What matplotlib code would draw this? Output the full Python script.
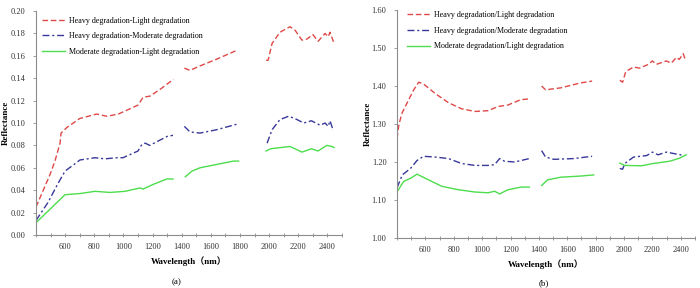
import numpy as np
import matplotlib
matplotlib.use("Agg")
import matplotlib.pyplot as plt
from matplotlib.ticker import MultipleLocator, FuncFormatter

nan = np.nan

# ---------------- Panel (a): differences ----------------
a_red_x = [400, 450, 496, 530, 565, 572, 612, 700, 816, 887, 965, 1067, 1100, 1135, 1182, 1251, 1343,
           nan, 1418, 1457, 1526, 1640, 1780,
           nan, 1979, 1993, 2020, 2074, 2143, 2177, 2225, 2260, 2300, 2336, 2384, 2405, 2418, 2432, 2446]
a_red_y = [0.025, 0.040, 0.054, 0.066, 0.082, 0.091, 0.096, 0.104, 0.108, 0.106, 0.108, 0.114, 0.116, 0.123, 0.124, 0.130, 0.139,
           nan, 0.149, 0.147, 0.151, 0.157, 0.165,
           nan, 0.156, 0.156, 0.171, 0.181, 0.186, 0.183, 0.174, 0.175, 0.179, 0.173, 0.180, 0.177, 0.181, 0.176, 0.171]

a_blue_x = [400, 482, 551, 599, 702, 805, 873, 956, 997, 1100, 1127, 1150, 1180, 1240, 1300, 1340,
            nan, 1418, 1457, 1526, 1640, 1780,
            nan, 1986, 2020, 2074, 2132, 2177, 2237, 2290, 2350, 2384, 2405, 2418, 2440]
a_blue_y = [0.013, 0.029, 0.046, 0.057, 0.067, 0.069, 0.068, 0.069, 0.069, 0.075, 0.081, 0.082, 0.080, 0.084, 0.088, 0.089,
            nan, 0.097, 0.092, 0.091, 0.094, 0.099,
            nan, 0.082, 0.094, 0.103, 0.106, 0.104, 0.100, 0.102, 0.098, 0.100, 0.097, 0.102, 0.093]

a_green_x = [400, 496, 599, 702, 805, 908, 1011, 1114, 1135, 1201, 1297, 1340,
             nan, 1425, 1470, 1525, 1640, 1755, 1790,
             nan, 1979, 2010, 2074, 2143, 2177, 2225, 2290, 2336, 2395, 2432, 2446]
a_green_y = [0.011, 0.023, 0.036, 0.037, 0.039, 0.038, 0.039, 0.042, 0.041, 0.045, 0.050, 0.050,
             nan, 0.052, 0.057, 0.060, 0.063, 0.066, 0.066,
             nan, 0.075, 0.077, 0.078, 0.079, 0.077, 0.074, 0.077, 0.075, 0.080, 0.079, 0.078]

a_labels = ["Heavy degradation-Light degradation",
            "Heavy degradation-Moderate degradation",
            "Moderate degradation-Light degradation"]

# ---------------- Panel (b): ratios ----------------
b_red_x = [400, 414, 437, 472, 518, 553, 588, 670, 763, 855, 949, 1042, 1112, 1182, 1272, 1333,
           nan, 1419, 1447, 1552, 1693, 1775,
           nan, 1970, 1990, 2012, 2067, 2110, 2172, 2200, 2228, 2298, 2333, 2368, 2389, 2417, 2431]
b_red_y = [1.262, 1.300, 1.330, 1.356, 1.390, 1.410, 1.405, 1.380, 1.356, 1.340, 1.333, 1.335, 1.346, 1.350, 1.364, 1.366,
           nan, 1.400, 1.390, 1.395, 1.408, 1.413,
           nan, 1.415, 1.410, 1.438, 1.450, 1.447, 1.457, 1.466, 1.457, 1.466, 1.460, 1.475, 1.470, 1.485, 1.470]

b_blue_x = [400, 437, 495, 541, 588, 670, 763, 855, 949, 1042, 1088, 1123, 1158, 1228, 1333,
            nan, 1419, 1447, 1505, 1645, 1775,
            nan, 1970, 1990, 2005, 2067, 2160, 2200, 2240, 2298, 2368, 2426]
b_blue_y = [1.132, 1.166, 1.183, 1.204, 1.215, 1.213, 1.209, 1.196, 1.191, 1.191, 1.193, 1.209, 1.202, 1.200, 1.209,
            nan, 1.230, 1.213, 1.207, 1.209, 1.215,
            nan, 1.183, 1.181, 1.196, 1.213, 1.217, 1.226, 1.219, 1.226, 1.221, 1.217]

b_green_x = [400, 447, 495, 541, 600, 716, 833, 949, 1042, 1088, 1123, 1182, 1275, 1333,
             nan, 1419, 1461, 1554, 1693, 1786,
             nan, 1970, 2005, 2122, 2205, 2321, 2391, 2438]
b_green_y = [1.121, 1.149, 1.157, 1.168, 1.157, 1.136, 1.127, 1.121, 1.119, 1.123, 1.116, 1.127, 1.134, 1.134,
             nan, 1.138, 1.153, 1.160, 1.163, 1.166,
             nan, 1.197, 1.191, 1.190, 1.196, 1.202, 1.210, 1.219]

b_labels = ["Heavy degradation/Light degradation",
            "Heavy degradation/Moderate degradation",
            "Moderate degradation/Light degradation"]

x_label = "Wavelength（nm）"
y_label = "Reflectance"

RED = "#e04848"
BLUE = "#38389a"
GREEN = "#4ddd4d"

plt.rcParams['font.family'] = ['Liberation Serif', 'Noto Sans CJK SC', 'DejaVu Sans']

fig = plt.figure(figsize=(7.0, 2.88), dpi=100)
ax_a = fig.add_axes([36/700, 53/288, 306/700, 224/288])
ax_b = fig.add_axes([397/700, 50/288, 298/700, 228/288])

TICK_FS = 6.0
LEG_FS = 5.8


def style(ax, ylim, ystep, fmt, ylab_px):
    ax.set_xlim(400, 2500)
    ax.set_ylim(*ylim)
    for s in ("top", "right"):
        ax.spines[s].set_visible(False)
    for s in ("left", "bottom"):
        ax.spines[s].set_color("#8c8c8c")
        ax.spines[s].set_linewidth(0.8)
    ax.xaxis.set_major_locator(MultipleLocator(100))
    ax.xaxis.set_major_formatter(FuncFormatter(
        lambda v, p: f"{int(round(v))}" if (int(round(v)) % 200 == 0 and 600 <= v <= 2400) else ""))
    ax.yaxis.set_major_locator(MultipleLocator(ystep))
    ax.yaxis.set_major_formatter(FuncFormatter(lambda v, p: fmt.format(v)))
    ax.tick_params(axis="x", direction="inout", length=3, width=0.6, color="#8c8c8c",
                   labelsize=TICK_FS, labelcolor="#333333", pad=4)
    ax.tick_params(axis="y", direction="out", length=2.5, width=0.6, color="#8c8c8c",
                   labelsize=TICK_FS, labelcolor="#333333", pad=5)
    ax.set_xlabel(x_label, fontsize=6.5, fontweight="bold",
                  family=['Liberation Serif', 'Noto Sans CJK SC'], labelpad=4)
    ax.set_ylabel(y_label, fontsize=6.5, fontweight="bold")
    ax.yaxis.set_label_coords(ylab_px / ax.get_position().width / 700, 0.5)


def draw(ax, series, labels, loc_anchor):
    styles = [dict(color=RED, ls=(0, (4, 2))),
              dict(color=BLUE, ls=(0, (5, 2, 1.5, 2))),
              dict(color=GREEN, ls="-")]
    for (x, y), lab, st in zip(series, labels, styles):
        ax.plot(x, y, lw=1.0, label=lab, **st)
    ax.legend(loc="upper left", bbox_to_anchor=loc_anchor, frameon=False, fontsize=LEG_FS,
              handlelength=2.9, handletextpad=0.45, labelspacing=0.95,
              borderaxespad=0, borderpad=0)


style(ax_a, (0, 0.20), 0.02, "{:.2f}", -26)
draw(ax_a, [(a_red_x, a_red_y), (a_blue_x, a_blue_y), (a_green_x, a_green_y)], a_labels, (0.02, 0.975))

style(ax_b, (1.0, 1.6), 0.1, "{:.2f}", -25)
draw(ax_b, [(b_red_x, b_red_y), (b_blue_x, b_blue_y), (b_green_x, b_green_y)], b_labels, (0.034, 0.995))

fig.text(177/700, 1 - 282/288, "(a)", ha="center", va="center", fontsize=6.5)
fig.text(544/700, 1 - 283/288, "(b)", ha="center", va="center", fontsize=6.5)

fig.savefig("out.png", dpi=100)
